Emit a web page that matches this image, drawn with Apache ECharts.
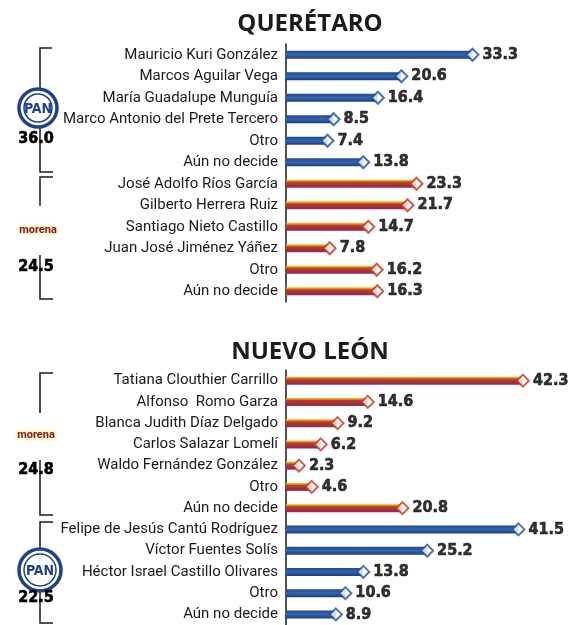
<!DOCTYPE html>
<html>
<head>
<meta charset="utf-8">
<script src="https://cdn.jsdelivr.net/npm/echarts@6/dist/echarts.min.js"></script>
<style>
  html, body { margin: 0; padding: 0; background: #fff; }
  #chart { width: 570px; height: 625px; }
</style>
</head>
<body>
<div id="chart"></div>
<script>
// Querétaro
const qroNames = [
  "Mauricio Kuri González", "Marcos Aguilar Vega", "María Guadalupe Munguía",
  "Marco Antonio del Prete Tercero", "Otro", "Aún no decide",
  "José Adolfo Ríos García", "Gilberto Herrera Ruiz", "Santiago Nieto Castillo",
  "Juan José Jiménez Yáñez", "Otro", "Aún no decide",
];
const qroValues = [33.3, 20.6, 16.4, 8.5, 7.4, 13.8, 23.3, 21.7, 14.7, 7.8, 16.2, 16.3];
const qroParty = ["pan", "pan", "pan", "pan", "pan", "pan",
  "morena", "morena", "morena", "morena", "morena", "morena"];

// Nuevo León
const nlNames = [
  "Tatiana Clouthier Carrillo", "Alfonso  Romo Garza", "Blanca Judith Díaz Delgado",
  "Carlos Salazar Lomelí", "Waldo Fernández González", "Otro", "Aún no decide",
  "Felipe de Jesús Cantú Rodríguez", "Víctor Fuentes Solís",
  "Héctor Israel Castillo Olivares", "Otro", "Aún no decide",
];
const nlValues = [42.3, 14.6, 9.2, 6.2, 2.3, 4.6, 20.8, 41.5, 25.2, 13.8, 10.6, 8.9];
const nlParty = ["morena", "morena", "morena", "morena", "morena", "morena", "morena",
  "pan", "pan", "pan", "pan", "pan"];

const titles = ["QUERÉTARO", "NUEVO LEÓN"];
const partyTotals = ["36.0", "24.5", "24.8", "22.5"];

const PAN_BLUE = "#1f3f8f";
const barStyle = {
  pan: {
    color: new echarts.graphic.LinearGradient(0, 0, 0, 1, [
      { offset: 0, color: "#22468e" },
      { offset: 0.5, color: "#3466ae" },
      { offset: 1, color: "#1d3c82" },
    ]),
  },
  morena: {
    color: new echarts.graphic.LinearGradient(0, 0, 0, 1, [
      { offset: 0, color: "#f0c21c" },
      { offset: 0.14, color: "#e7a21e" },
      { offset: 0.32, color: "#b9412e" },
      { offset: 0.7, color: "#a3303a" },
      { offset: 1, color: "#8f2a58" },
    ]),
  },
};
const diamondBorder = { pan: "#1d4d9e", morena: "#c2331f" };

const chart = echarts.init(document.getElementById("chart"));

function barSeries(values, party, idx) {
  return {
    type: "bar",
    xAxisIndex: idx,
    yAxisIndex: idx,
    barWidth: 8,
    silent: true,
    data: values.map((v, i) => ({ value: v, itemStyle: barStyle[party[i]] })),
  };
}

function diamondSeries(values, party, idx) {
  return {
    type: "scatter",
    xAxisIndex: idx,
    yAxisIndex: idx,
    symbol: "diamond",
    symbolSize: [12, 12],
    z: 5,
    silent: true,
    data: values.map((v, i) => ({
      value: [v, i],
      itemStyle: { color: "#fff", borderColor: diamondBorder[party[i]], borderWidth: 2 },
    })),
    label: {
      show: true,
      position: "right",
      distance: 3,
      formatter: (p) => p.value[0].toFixed(1),
      fontFamily: "DejaVu Sans Condensed",
      fontWeight: "bold",
      fontSize: 16,
      color: "#000",
      textBorderColor: "#000",
      textBorderWidth: 0.6,
    },
  };
}

const catAxis = (names, idx) => ({
  type: "category",
  gridIndex: idx,
  inverse: true,
  data: names,
  axisLine: { show: true, lineStyle: { color: "#1a1a1a", width: 1.5 } },
  axisTick: { show: false },
  axisLabel: {
    interval: 0,
    margin: 8,
    fontFamily: "Roboto",
    fontSize: 15,
    color: "#1a1a1a",
  },
});

const valAxis = (idx) => ({
  type: "value",
  gridIndex: idx,
  min: 0,
  max: 50,
  show: false,
});

// side brackets, party marks and totals
function line(points) {
  return {
    type: "polyline",
    shape: { points },
    style: { stroke: "#1a1a1a", lineWidth: 1.5, fill: null },
    silent: true,
  };
}
function panLogo(cx, cy, r) {
  return [
    { type: "circle", shape: { cx, cy, r }, style: { fill: "#fff", stroke: PAN_BLUE, lineWidth: 3.5 }, z: 10 },
    { type: "circle", shape: { cx, cy, r: r - 5 }, style: { fill: "#fff", stroke: PAN_BLUE, lineWidth: 1.5 }, z: 10 },
    {
      type: "text", x: cx, y: cy + 1, z: 11,
      style: {
        text: "PAN", fill: PAN_BLUE, font: 'bold 14px "DejaVu Sans Condensed"',
        align: "center", verticalAlign: "middle",
      },
    },
  ];
}
function morenaMark(x, y) {
  return {
    type: "text", x, y,
    style: {
      text: "morena", fill: "#7d1a2c", font: "bold 11px Roboto",
      align: "center", verticalAlign: "middle",
      textShadowColor: "#ffd21f", textShadowBlur: 5,
    },
  };
}
function total(x, y, txt) {
  return {
    type: "text", x, y, z: 12,
    style: {
      text: txt, fill: "#000", font: 'bold 16px "DejaVu Sans Condensed"',
      stroke: "#000", lineWidth: 0.6,
      align: "center", verticalAlign: "middle",
    },
  };
}
function title(x, y, txt) {
  return {
    type: "text", x, y,
    style: {
      text: txt, fill: "#1c1c1c", font: 'bold 24px "Open Sans"',
      align: "center", verticalAlign: "middle",
    },
  };
}

const graphics = [
  title(310, 24, titles[0]),
  title(310, 352, titles[1]),
  // Querétaro PAN
  line([[52, 48], [40, 48], [40, 88]]),
  line([[40, 128], [40, 172], [53, 172]]),
  ...panLogo(38, 108, 19),
  total(36, 139, partyTotals[0]),
  // Querétaro morena
  line([[53, 177], [40, 177], [40, 206]]),
  line([[40, 255], [40, 299], [53, 299]]),
  morenaMark(38, 230),
  total(36, 267, partyTotals[1]),
  // Nuevo León morena
  line([[53, 373], [40, 373], [40, 413]]),
  line([[40, 460], [40, 515], [53, 515]]),
  morenaMark(36, 435),
  total(36, 470, partyTotals[2]),
  // Nuevo León PAN
  line([[53, 522], [40, 522], [40, 548]]),
  line([[40, 590], [40, 623], [53, 623]]),
  ...panLogo(40, 570, 21),
  total(36, 598, partyTotals[3]),
];

chart.setOption({
  backgroundColor: "#fff",
  animation: false,
  grid: [
    { left: 286, top: 44, width: 280, height: 258 },
    { left: 286, top: 370, width: 280, height: 258 },
  ],
  xAxis: [valAxis(0), valAxis(1)],
  yAxis: [catAxis(qroNames, 0), catAxis(nlNames, 1)],
  series: [
    barSeries(qroValues, qroParty, 0),
    diamondSeries(qroValues, qroParty, 0),
    barSeries(nlValues, nlParty, 1),
    diamondSeries(nlValues, nlParty, 1),
  ],
  graphic: graphics,
});
</script>
</body>
</html>
